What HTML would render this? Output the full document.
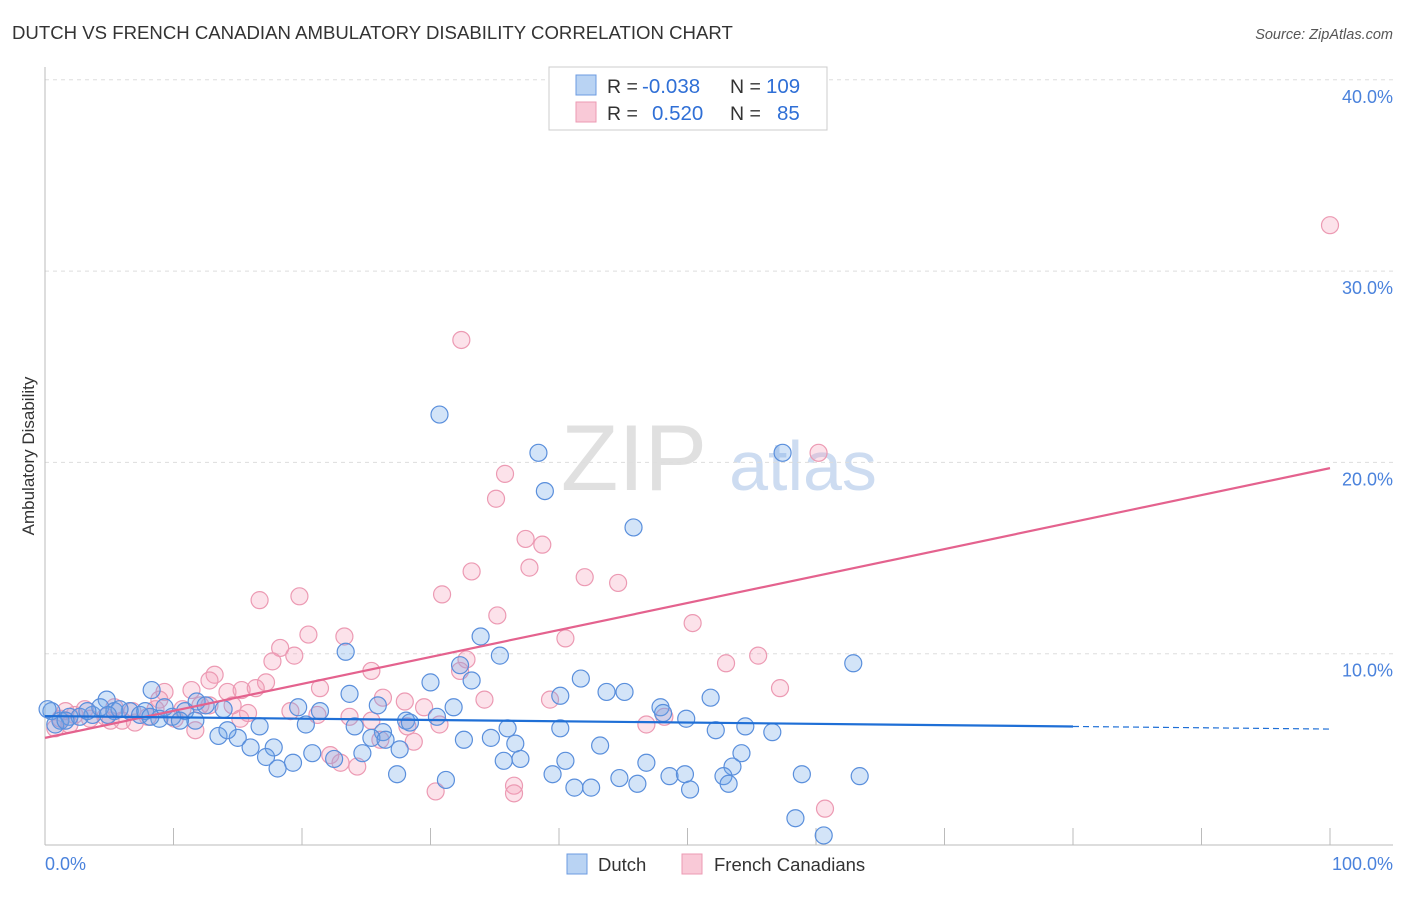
<!DOCTYPE html>
<html><head><meta charset="utf-8"><style>
body{margin:0;background:#fff;font-family:"Liberation Sans",sans-serif;}
svg text{font-family:"Liberation Sans",sans-serif;}
</style></head><body>
<svg id="chart" width="1406" height="892" xmlns="http://www.w3.org/2000/svg">
<text x="12" y="39" font-size="18.6" fill="#333">DUTCH VS FRENCH CANADIAN AMBULATORY DISABILITY CORRELATION CHART</text>
<text x="1393" y="39" font-size="14.5" fill="#555" text-anchor="end" font-style="italic">Source: ZipAtlas.com</text>
<g>
<text x="634" y="490" font-size="94" fill="#e0e0e0" font-family="Liberation Serif" text-anchor="middle">ZIP</text>
<text x="803" y="490" font-size="70" fill="#cddcf1" text-anchor="middle">atlas</text>
</g>
<g id="grid"></g>
<g id="axes"></g>
<g id="pts"></g>
<g id="trends"></g>
<text transform="translate(34,456) rotate(-90)" font-size="17" fill="#333" text-anchor="middle">Ambulatory Disability</text>
<g>
<rect x="549" y="67" width="278" height="63" fill="#fff" stroke="#ccc"/>
<rect x="576" y="75" width="20" height="20" fill="#b9d3f3" stroke="#6c9be0"/>
<rect x="576" y="102" width="20" height="20" fill="#f9c9d7" stroke="#ec9ab3"/>
<text x="607" y="93" font-size="19.5" fill="#333">R =</text>
<text x="642" y="93" font-size="20.5" fill="#2f6fd6">-0.038</text>
<text x="730" y="93" font-size="19.5" fill="#333">N =</text>
<text x="766" y="93" font-size="20.5" fill="#2f6fd6">109</text>
<text x="607" y="120" font-size="19.5" fill="#333">R =</text>
<text x="652" y="120" font-size="20.5" fill="#2f6fd6">0.520</text>
<text x="730" y="120" font-size="19.5" fill="#333">N =</text>
<text x="777" y="120" font-size="20.5" fill="#2f6fd6">85</text>
</g>
<g>
<rect x="567" y="854" width="20" height="20" fill="#b9d3f3" stroke="#6c9be0"/>
<text x="598" y="871" font-size="18.5" fill="#333">Dutch</text>
<rect x="682" y="854" width="20" height="20" fill="#f9c9d7" stroke="#ec9ab3"/>
<text x="714" y="871" font-size="18.5" fill="#333">French Canadians</text>
</g>
</svg>
<script>
const yTicks=[10,20,30,40];
const yTickLabels=["10.0%","20.0%","30.0%","40.0%"];
const xTickLabels=["0.0%","100.0%"];
const dutchX=[30.7,38.4,38.9,57.4,45.8,33.9,23.4,35.4,32.3,62.9,33.2,30.0,41.7,43.7,45.1,40.1,8.3,4.8,23.7,25.9,31.8,47.9,51.8,19.7,21.4,30.5,28.1,28.4,40.1,36.0,54.5,52.2,56.6,49.9,48.1,16.7,20.3,24.1,26.3,32.6,34.7,36.6,37.0,43.2,54.2,25.4,26.5,13.5,15.0,14.2,16.0,17.8,17.2,20.8,22.5,24.7,27.6,35.7,40.5,46.8,53.5,19.3,18.1,27.4,31.2,39.5,44.7,48.6,49.8,52.8,53.2,58.9,63.4,41.2,42.5,46.1,50.2,58.4,60.6,10.9,11.8,9.3,6.6,3.7,1.2,0.5,1.9,2.7,4.3,5.4,7.4,8.9,9.9,12.5,13.9,0.8,1.6,5.8,7.8,11.7,4.9,3.3,8.2,10.5,0.2];
const dutchY=[22.5,20.5,18.5,20.5,16.6,10.9,10.1,9.9,9.4,9.5,8.6,8.5,8.7,8.0,8.0,7.8,8.1,7.6,7.9,7.3,7.2,7.2,7.7,7.2,7.0,6.7,6.5,6.4,6.1,6.1,6.2,6.0,5.9,6.6,6.9,6.2,6.3,6.2,5.9,5.5,5.6,5.3,4.5,5.2,4.8,5.6,5.5,5.7,5.6,6.0,5.1,5.1,4.6,4.8,4.5,4.8,5.0,4.4,4.4,4.3,4.1,4.3,4.0,3.7,3.4,3.7,3.5,3.6,3.7,3.6,3.2,3.7,3.6,3.0,3.0,3.2,2.9,1.4,0.5,7.0,7.5,7.2,7.0,6.8,6.5,7.0,6.7,6.7,7.2,7.0,6.8,6.6,6.7,7.3,7.1,6.3,6.5,7.1,7.0,6.5,6.8,7.0,6.7,6.5,7.1];
const frX=[100,32.4,35.8,60.2,35.1,37.4,38.7,33.2,37.7,42.0,44.6,30.9,16.7,19.8,35.2,40.5,50.4,20.5,23.3,18.3,19.4,17.7,25.4,53.0,55.5,13.2,32.8,32.3,12.8,17.2,21.4,57.2,11.4,9.3,8.9,14.2,15.3,16.4,26.3,28.0,29.5,39.3,34.2,12.8,14.6,10.7,6.8,15.8,21.2,23.7,25.4,28.2,30.7,48.2,46.8,26.1,28.7,22.2,23.0,24.3,30.4,36.5,36.5,60.7,1.2,2.3,3.5,4.7,6.0,8.0,0.8,1.9,3.1,7.0,11.7,10.1,5.1,1.6,12.1,5.4,15.2,19.1,8.6];
const frY=[32.4,26.4,19.4,20.5,18.1,16.0,15.7,14.3,14.5,14.0,13.7,13.1,12.8,13.0,12.0,10.8,11.6,11.0,10.9,10.3,9.9,9.6,9.1,9.5,9.9,8.9,9.7,9.1,8.6,8.5,8.2,8.2,8.1,8.0,7.6,8.0,8.1,8.2,7.7,7.5,7.2,7.6,7.6,7.3,7.3,7.1,7.0,6.9,6.8,6.7,6.5,6.2,6.3,6.7,6.3,5.5,5.4,4.7,4.3,4.1,2.8,3.1,2.7,1.9,6.6,6.8,6.6,6.7,6.5,6.7,6.1,6.3,7.1,6.4,6.0,6.6,6.5,7.0,7.3,7.2,6.6,7.0,7.1];
const dutchTrend=[6.74,6.06];
const frTrend=[5.6,19.7];
const NS="http://www.w3.org/2000/svg";
const X0=45,X1=1330,YB=845,PX10=191.3;
function sx(v){return X0+(X1-X0)*v/100;}
function sy(v){return YB-PX10*v/10;}
function mk(tag,attrs,parent){const e=document.createElementNS(NS,tag);for(const k in attrs)e.setAttribute(k,attrs[k]);parent.appendChild(e);return e;}
const grid=document.getElementById('grid'),axes=document.getElementById('axes'),pts=document.getElementById('pts'),tr=document.getElementById('trends');
yTicks.forEach((t,i)=>{
 const l=mk('line',{x1:45,x2:1393,y1:sy(t),y2:sy(t),stroke:'#ddd','stroke-dasharray':'4,4'},grid);
 
 
 const tx=mk('text',{x:1393,y:sy(t)+23,'font-size':18,fill:'#4a82dc','text-anchor':'end'},grid);
 tx.textContent=yTickLabels[i];
 
 
});
const ya=mk('line',{x1:45,x2:45,y1:67,y2:845,stroke:'#bbb'},axes);


const xa=mk('line',{x1:45,x2:1393,y1:845,y2:845,stroke:'#bbb'},axes);


for(let i=1;i<=10;i++){
 const tk=mk('line',{x1:sx(i*10),x2:sx(i*10),y1:828,y2:845,stroke:'#bbb'},axes);
 
 
}
[[0,'start',45],[100,'end',1393]].forEach((d,i)=>{
 const t=mk('text',{x:d[2],y:870,'font-size':18,fill:'#4a82dc','text-anchor':d[1]},axes);
 t.textContent=xTickLabels[i];
 
 
});
function drawPts(xs,ys,fill,stroke,name){
 xs.forEach((v,i)=>{
  const c=mk('circle',{cx:sx(v),cy:sy(ys[i]),r:8.5,fill:fill,stroke:stroke,'stroke-width':1.2},pts);
  
  
 });
}
drawPts(frX,frY,'rgba(244,160,185,0.3)','#ec9ab3','french-canadian-point');
drawPts(dutchX,dutchY,'rgba(110,165,232,0.3)','#5a8fdc','dutch-point');
const pl=mk('line',{x1:sx(0),y1:sy(frTrend[0]),x2:sx(100),y2:sy(frTrend[1]),stroke:'#e4628e','stroke-width':2.2},tr);


function dy(x){return dutchTrend[0]+(dutchTrend[1]-dutchTrend[0])*x/100;}
const bl=mk('line',{x1:sx(0),y1:sy(dy(0)),x2:sx(80),y2:sy(dy(80)),stroke:'#1f6fd6','stroke-width':2.2},tr);


const bd=mk('line',{x1:sx(80),y1:sy(dy(80)),x2:sx(100),y2:sy(dy(100)),stroke:'#1f6fd6','stroke-width':1.2,'stroke-dasharray':'6,4'},tr);


</script>
</body></html>
